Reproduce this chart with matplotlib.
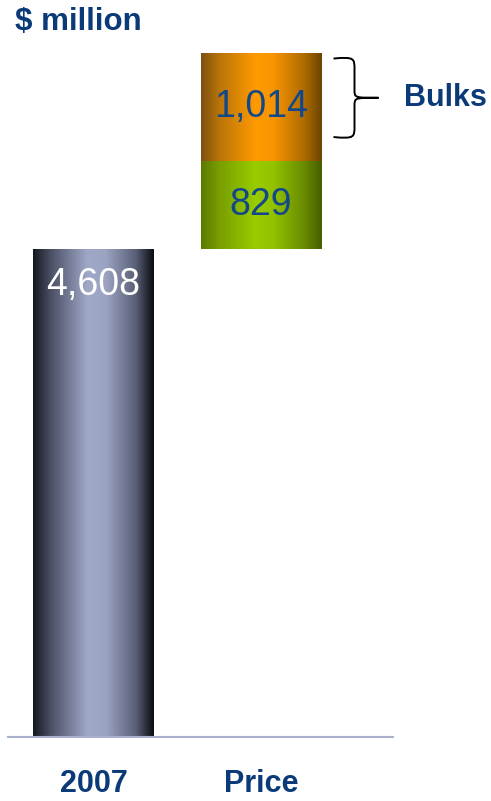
import matplotlib
matplotlib.use('Agg')
import matplotlib.pyplot as plt
import numpy as np
from matplotlib.colors import LinearSegmentedColormap
from matplotlib.path import Path
import matplotlib.patches as patches

plt.rcParams['font.family'] = ['Liberation Sans', 'DejaVu Sans']

# Waterfall data ($ million)
categories = ['2007', 'Price']
start_value = 4608
price_parts = [829, 1014]
price_labels = ['829', '1,014']
bracket_label = 'Bulks'

NAVY = '#0B3A78'
BASELINE = '#A9B1CE'

# horizontal "cylinder" shading for each bar
SHADES = {
    'grey': ['#15171F', '#4C5166', '#A0A8C8', '#9CA4C2', '#5A6078', '#0B0B10'],
    'green': ['#5A7A00', '#789E00', '#99CC00', '#92C200', '#6A8C00', '#465E00'],
    'orange': ['#7C5010', '#B87408', '#FF9A00', '#F79400', '#B06C00', '#6C4400'],
}
STOPS = [0.0, 0.15, 0.45, 0.6, 0.85, 1.0]


def shade_cmap(name):
    return LinearSegmentedColormap.from_list(name, list(zip(STOPS, SHADES[name])))


def shade_bar(ax, rect, cmap):
    """Fill a bar patch with a horizontal gradient clipped to the bar."""
    x0, y0 = rect.get_x(), rect.get_y()
    w, h = rect.get_width(), rect.get_height()
    grad = np.linspace(0, 1, 256).reshape(1, -1)
    im = ax.imshow(grad, cmap=cmap, aspect='auto', interpolation='bilinear',
                   extent=(x0, x0 + w, y0, y0 + h), zorder=2)
    im.set_clip_path(rect)


fig = plt.figure(figsize=(4.91, 8.01), dpi=100)
W, H = 491, 801
ax = fig.add_axes([8 / W, 64 / H, 385 / W, 737 / H])

px_per_cat = 167.5
px_per_unit = 0.1060
x_left = -85.5 / px_per_cat
ax.set_xlim(x_left, x_left + 385 / px_per_cat)
ax.set_ylim(0, 737 / px_per_unit)
bar_w = 121 / px_per_cat

x = np.arange(len(categories))

# first bar
b0 = ax.bar(x[0], start_value, width=bar_w, color='none', edgecolor='none', zorder=1)[0]
shade_bar(ax, b0, shade_cmap('grey'))
ax.text(x[0], start_value - 36 / px_per_unit, f'{start_value:,}', ha='center', va='center',
        color='white', fontsize=27, zorder=3)

# price step, stacked on top of the first bar
bottoms = start_value + np.concatenate([[0], np.cumsum(price_parts)[:-1]])
for val, bot, lab, shade in zip(price_parts, bottoms, price_labels, ['green', 'orange']):
    r = ax.bar(x[1], val, bottom=bot, width=bar_w, color='none', edgecolor='none', zorder=1)[0]
    shade_bar(ax, r, shade_cmap(shade))
    ax.text(x[1], bot + val / 2, lab, ha='center', va='center',
            color='#12488A', fontsize=27, zorder=3)

# curly bracket next to the top segment
top_bot, top_val = bottoms[-1], price_parts[-1]
y_lo = top_bot + 0.22 * top_val
y_hi = top_bot + top_val - 0.05 * top_val
y_mid = (y_lo + y_hi) / 2
xb = x[1] + bar_w / 2 + 12 / px_per_cat
xv = xb + 21 / px_per_cat
xt = xb + 45 / px_per_cat
r1 = 11 / px_per_unit
r2 = 8 / px_per_unit
verts = [
    (xb, y_hi), (xv, y_hi + 2 / px_per_unit), (xv, y_hi), (xv, y_hi - r1),
    (xv, y_mid + r2),
    (xv, y_mid), (xv, y_mid), (xt, y_mid),
    (xv, y_mid), (xv, y_mid), (xv, y_mid - r2),
    (xv, y_lo + r1),
    (xv, y_lo), (xv, y_lo - 2 / px_per_unit), (xb, y_lo),
]
codes = [Path.MOVETO, Path.CURVE4, Path.CURVE4, Path.CURVE4,
         Path.LINETO,
         Path.CURVE4, Path.CURVE4, Path.CURVE4,
         Path.CURVE4, Path.CURVE4, Path.CURVE4,
         Path.LINETO,
         Path.CURVE4, Path.CURVE4, Path.CURVE4]
ax.add_patch(patches.PathPatch(Path(verts, codes), facecolor='none',
                               edgecolor='black', lw=1.4, clip_on=False))
ax.text(xt + 26 / px_per_cat, y_mid, bracket_label, ha='left', va='center',
        color=NAVY, fontsize=22, fontweight='bold')

# baseline and category labels
ax.axhline(0, color=BASELINE, lw=1.5, zorder=4, clip_on=False)
for xi, cat in zip(x, categories):
    ax.text(xi, -47 / px_per_unit, cat, ha='center', va='center',
            color=NAVY, fontsize=22, fontweight='bold', clip_on=False)

ax.axis('off')
fig.text(15 / W, 1 - 22 / H, '$ million', ha='left', va='center',
         color=NAVY, fontsize=22.5, fontweight='bold')

fig.savefig('out.png', dpi=100)
